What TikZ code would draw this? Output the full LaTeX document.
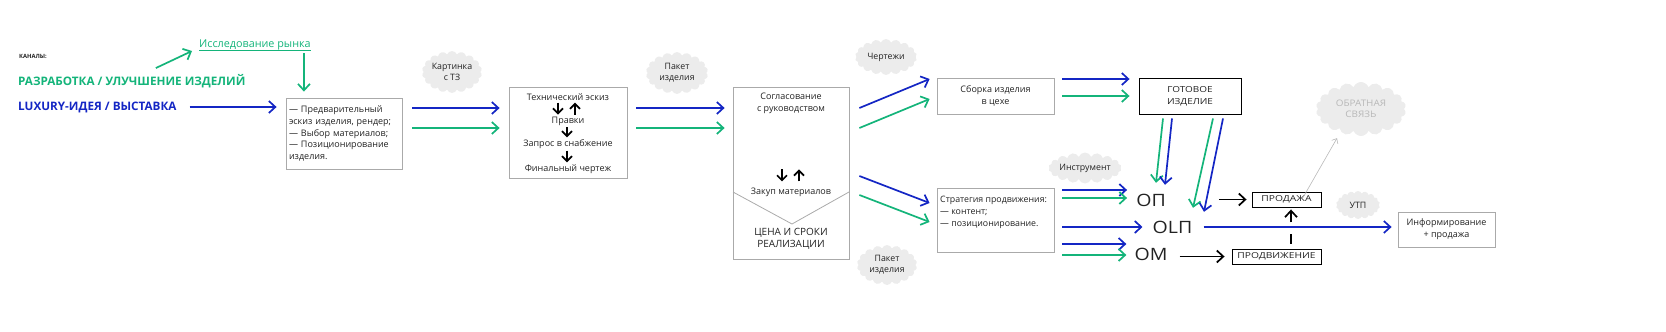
\documentclass[tikz,border=0pt]{standalone}
\usepackage{fontspec}
\setmainfont{Open Sans}
\usetikzlibrary{arrows.meta,shapes.symbols}
\definecolor{cblue}{HTML}{1426C4}
\definecolor{cgreen}{HTML}{14B47A}
\definecolor{bgray}{HTML}{AAAAAA}
\definecolor{cloudg}{HTML}{ECECEC}
\definecolor{txt}{HTML}{222222}
\definecolor{fbgray}{HTML}{B8B8B8}
\newcommand{\capsfont}{\fontsize{8.2}{9}\selectfont\addfontfeatures{FakeStretch=1.25}}
\tikzset{
  arr/.style={line width=1.7pt, -{Straight Barb[length=6.5pt,width=12pt]}},
  bluearr/.style={arr, draw=cblue},
  greenarr/.style={arr, draw=cgreen},
  blkarr/.style={arr, draw=black},
  smallarr/.style={line width=1.7pt, draw=black, -{Straight Barb[length=5pt,width=10pt]}},
  box/.style={draw=bgray, line width=0.8pt, inner sep=0pt},
  bbox/.style={draw=black, line width=0.9pt, inner sep=0pt},
  cloudn/.style={cloud, cloud puffs=18, cloud puff arc=140, cloud ignores aspect, fill=cloudg, draw=none, align=center, inner sep=0pt, font=\fontsize{8.8}{11}\selectfont},
  txtn/.style={inner sep=1pt, align=center, font=\fontsize{9}{11.8}\selectfont},
  big/.style={inner sep=0pt, text height=12pt, text depth=0pt, font=\fontsize{17}{17}\selectfont\addfontfeatures{FakeStretch=1.15}}
}
\begin{document}
\begin{tikzpicture}[x=1pt,y=-1pt, text=txt, font=\fontsize{9}{11.8}\selectfont]
\useasboundingbox (0,0) rectangle (1666,332);
% channel labels
\node[anchor=west, inner sep=0pt, font=\bfseries\fontsize{5.8}{6}\selectfont] (kan) at (19,56) {КАНАЛЫ:};
\node[anchor=west, inner sep=0pt, text=cgreen, font=\bfseries\fontsize{11.7}{12}\selectfont] (razr) at (18,81) {РАЗРАБОТКА / УЛУЧШЕНИЕ ИЗДЕЛИЙ};
\node[anchor=west, inner sep=0pt, text=cblue, font=\bfseries\fontsize{11.7}{12}\selectfont] (lux) at (18,107) {LUXURY-ИДЕЯ / ВЫСТАВКА};
\node[anchor=west, inner sep=0pt, text=cgreen, font=\fontsize{10.8}{11}\selectfont] (issl) at (199,45) {Исследование рынка};
\draw[cgreen, line width=0.7pt] ([yshift=-3pt]issl.base west) -- ([yshift=-3pt]issl.base east);

% boxes
\node[box, minimum width=116, minimum height=71, text width=110, inner xsep=3pt, align=left] (b1) at (344,133.5)
  {— Предварительный\\эскиз изделия, рендер;\\— Выбор материалов;\\— Позиционирование\\изделия.};

\node[box, minimum width=118, minimum height=91] (b2) at (568,132.5) {};
\node[txtn] (t1) at (568,97) {Технический эскиз};
\node[txtn] (t2) at (568,121) {Правки};
\node[txtn] (t3) at (568,144) {Запрос в снабжение};
\node[txtn] (t4) at (568,169) {Финальный чертеж};
\draw[smallarr] ([xshift=-10pt,yshift=-1pt]t1.south) -- ([xshift=-10pt,yshift=1pt]t2.north);
\draw[smallarr] ([xshift=7pt,yshift=1pt]t2.north) -- ([xshift=7pt,yshift=-1pt]t1.south);
\draw[smallarr] ([xshift=-1pt,yshift=-1pt]t2.south) -- ([xshift=-1pt,yshift=1pt]t3.north);
\draw[smallarr] ([xshift=-1pt,yshift=-1pt]t3.south) -- ([xshift=-1pt,yshift=1pt]t4.north);

\node[box, minimum width=116, minimum height=172] (b3) at (791,173) {};
\node[txtn] (sogl) at (791,103) {Согласование\\с руководством};
\node[txtn] (zakup) at (791,192) {Закуп материалов};
\draw[smallarr] ([xshift=-9pt,yshift=17pt]zakup.north) -- ([xshift=-9pt,yshift=5pt]zakup.north);
\draw[smallarr] ([xshift=8pt,yshift=5pt]zakup.north) -- ([xshift=8pt,yshift=17pt]zakup.north);
\draw[bgray, line width=0.8pt] (733,192) -- (792,224) -- (849,192);
\node[txtn, font=\fontsize{10}{12.5}\selectfont] (cena) at (791,239) {ЦЕНА И СРОКИ\\РЕАЛИЗАЦИИ};

\node[box, minimum width=117, minimum height=36, align=center] (b4) at (995.5,96) {Сборка изделия\\в цехе};
\node[box, minimum width=117, minimum height=64] (b5) at (995.5,220) {};
\node[anchor=north west, inner sep=0pt, align=left, font=\fontsize{8.8}{12}\selectfont] (b5t) at (940,196) {Стратегия продвижения:\\— контент;\\— позиционирование.};

\node[bbox, minimum width=102, minimum height=36, align=center, font=\fontsize{8.3}{12}\selectfont\addfontfeatures{FakeStretch=1.2}] (b6) at (1190,96) {ГОТОВОЕ\\ИЗДЕЛИЕ};

\node[big] (op) at (1151,200) {ОП};
\node[big] (olp) at (1172.5,227) {OLП};
\node[big] (om) at (1151,254) {ОМ};

\node[bbox, minimum width=69, minimum height=15, font=\capsfont] (prd) at (1286.5,199.5) {ПРОДАЖА};
\node[bbox, minimum width=89, minimum height=15, font=\capsfont] (prdv) at (1276.5,256.5) {ПРОДВИЖЕНИЕ};
\node[box, minimum width=97, minimum height=35, align=center] (inf) at (1446.5,229.5) {Информирование\\+ продажа};

% clouds
\node[cloudn, minimum width=60, minimum height=42] (c1) at (452,72) {Картинка\\с ТЗ};
\node[cloudn, minimum width=62, minimum height=42] (c2) at (677,73) {Пакет\\изделия};
\node[cloudn, minimum width=62, minimum height=36] (c3) at (886,57) {Чертежи};
\node[cloudn, minimum width=72, minimum height=31] (c4) at (1085,168) {Инструмент};
\node[cloudn, minimum width=60, minimum height=40] (c5) at (887,265) {Пакет\\изделия};
\node[cloudn, minimum width=90, minimum height=54, text=fbgray, font=\fontsize{9}{11.5}\selectfont\addfontfeatures{FakeStretch=1.1}] (c6) at (1361,109) {ОБРАТНАЯ\\СВЯЗЬ};
\node[cloudn, minimum width=44, minimum height=28] (c7) at (1358,205) {УТП};

% connectors
\draw[greenarr] ([shift={(24pt,6pt)}]razr.north) -- ([shift={(-7pt,-6pt)}]issl.west);
\draw[greenarr, shorten <=3pt, shorten >=6pt] ([xshift=-7pt]issl.south east) -- ([xshift=-7pt]issl.south east |- b1.north);
\draw[bluearr, shorten <=13pt, shorten >=9pt] (lux.east) -- (lux.east -| b1.west);

\draw[bluearr, shorten <=10pt, shorten >=9pt] ([yshift=25.5pt]b1.east) -- ([yshift=25.5pt]b1.east -| b2.west);
\draw[greenarr, shorten <=10pt, shorten >=9pt] ([yshift=5.5pt]b1.east) -- ([yshift=5.5pt]b1.east -| b2.west);

\draw[bluearr, shorten <=9pt, shorten >=8pt] ([yshift=24.5pt]b2.east) -- ([yshift=24.5pt]b2.east -| b3.west);
\draw[greenarr, shorten <=9pt, shorten >=8pt] ([yshift=4.5pt]b2.east) -- ([yshift=4.5pt]b2.east -| b3.west);

\draw[bluearr] ([shift={(10pt,65pt)}]b3.east) -- ([shift={(-7pt,17pt)}]b4.west);
\draw[greenarr] ([shift={(10pt,45pt)}]b3.east) -- ([shift={(-7pt,-3pt)}]b4.west);
\draw[bluearr] ([shift={(10pt,-3pt)}]b3.east) -- ([shift={(-7pt,17pt)}]b5.west);
\draw[greenarr] ([shift={(10pt,-22pt)}]b3.east) -- ([shift={(-7pt,-2pt)}]b5.west);

\draw[bluearr, shorten <=8pt, shorten >=9pt] ([yshift=17pt]b4.east) -- ([yshift=17pt]b4.east -| b6.west);
\draw[greenarr, shorten <=8pt, shorten >=9pt] (b4.east) -- (b4.east -| b6.west);

\draw[bluearr, shorten <=8pt, shorten >=9pt] ([yshift=30pt]b5.east) -- ([yshift=30pt]b5.east -| op.west);
\draw[greenarr, shorten <=8pt, shorten >=9pt] ([yshift=22pt]b5.east) -- ([yshift=22pt]b5.east -| op.west);
\draw[bluearr, shorten <=8pt, shorten >=10pt] ([yshift=-7pt]b5.east) -- ([yshift=-7pt]b5.east -| olp.west);
\draw[bluearr, shorten <=8pt, shorten >=8pt] ([yshift=-24pt]b5.east) -- ([yshift=-24pt]b5.east -| om.west);
\draw[greenarr, shorten <=8pt, shorten >=8pt] ([yshift=-35pt]b5.east) -- ([yshift=-35pt]b5.east -| om.west);

\draw[greenarr] ([shift={(-27pt,-4pt)}]b6.south) -- ([shift={(5pt,11pt)}]op.north);
\draw[bluearr] ([shift={(-18pt,-4pt)}]b6.south) -- ([shift={(14pt,9pt)}]op.north);
\draw[greenarr] ([shift={(23pt,-4pt)}]b6.south) -- ([shift={(20.5pt,13pt)}]olp.north);
\draw[bluearr] ([shift={(33pt,-4pt)}]b6.south) -- ([shift={(31.5pt,9pt)}]olp.north);

\draw[blkarr, shorten <=53pt, shorten >=5pt] (prd.west -| op.east) -- (prd.west);
\draw[blkarr, shorten <=12pt, shorten >=7pt] (prdv.west -| om.east) -- (prdv.west);
\draw[black, line width=1.7pt] ([xshift=14.5pt,yshift=5pt]prdv.north) -- ([xshift=14.5pt,yshift=15pt]prdv.north);
\draw[blkarr] ([xshift=4.5pt,yshift=-15pt]prd.south) -- ([xshift=4.5pt,yshift=-2pt]prd.south);

\draw[bluearr, shorten <=11pt, shorten >=6pt] (olp.east) -- (olp.east -| inf.west);
\draw[fbgray, line width=0.6pt, -{Straight Barb[length=4pt,width=7pt]}] ([shift={(16.5pt,-6pt)}]prd.north) -- ([shift={(-24pt,-2pt)}]c6.south);
\end{tikzpicture}
\end{document}
